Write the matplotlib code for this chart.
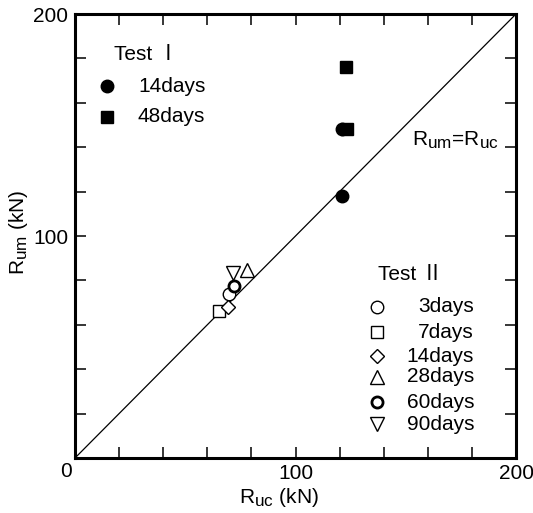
import matplotlib
matplotlib.use("Agg")
import matplotlib.pyplot as plt
import matplotlib._mathtext as _mt
from matplotlib.ticker import MultipleLocator, FuncFormatter

plt.rcParams['font.family'] = ['Liberation Sans', 'Noto Sans CJK JP', 'DejaVu Sans']
plt.rcParams['mathtext.fontset'] = 'custom'
plt.rcParams['mathtext.rm'] = 'Liberation Sans'
plt.rcParams['mathtext.it'] = 'Liberation Sans'
# larger subscripts than the mathtext default
_mt.SHRINK_FACTOR = 0.82

# Test I
t1_labels = ['14days', '48days']
t1_14_ruc = [121.0, 121.0]
t1_14_rum = [118.0, 148.0]
t1_48_ruc = [123.5, 123.0]
t1_48_rum = [148.0, 176.0]

# Test II
t2_labels = ['3days', '7days', '14days', '28days', '60days', '90days']
t2_ruc = [70.0, 65.4, 69.2, 77.8, 72.0, 71.7]
t2_rum = [73.7, 66.1, 68.1, 84.6, 77.7, 83.3]

tick_labels = {100: '100', 200: '200'}

W, H = 533, 513
fig = plt.figure(figsize=(W / 100, H / 100), dpi=100)
L, R, T, B = 75, 516, 14, 458
ax = fig.add_axes([L / W, (H - B) / H, (R - L) / W, (B - T) / H])

def ax_xy(px, py):
    return (px - L) / (R - L), (B - py) / (B - T)

FS = 15

# 1:1 line
ax.plot([0, 200], [0, 200], color='black', lw=0.9)

# Test I markers
ax.plot(t1_14_ruc, t1_14_rum, 'o', color='black', ms=9, mec='black', ls='none')
ax.plot(t1_48_ruc, t1_48_rum, 's', color='black', ms=9, mec='black', ls='none')

# Test II marker styles
t2_styles = [
    dict(marker='o', ms=9, mfc='white', mew=1.0),
    dict(marker='s', ms=9, mfc='white', mew=1.0),
    dict(marker='D', ms=7, mfc='white', mew=1.0),
    dict(marker='^', ms=9.5, mfc='white', mew=1.0),
    dict(marker='o', ms=8, mfc='white', mew=2.0),
    dict(marker='v', ms=9.5, mfc='white', mew=1.0),
]
for xv, yv, st in zip(t2_ruc, t2_rum, t2_styles):
    ax.plot([xv], [yv], ls='none', mec='black', **st)

ax.set_xlim(0, 200)
ax.set_ylim(0, 200)

# Axis styling
for sp in ax.spines.values():
    sp.set_linewidth(2.2)
ax.xaxis.set_major_locator(MultipleLocator(20))
ax.yaxis.set_major_locator(MultipleLocator(20))
ax.tick_params(direction='in', length=8, width=1.1, top=True, right=True,
               labelsize=FS, pad=4)
fmt = FuncFormatter(lambda v, p: tick_labels.get(int(round(v)), ''))
ax.xaxis.set_major_formatter(fmt)
ax.yaxis.set_major_formatter(fmt)
ax.tick_params(axis='y', pad=5)

# shared origin label, set slightly left of the corner
ax.text(*ax_xy(66, 462), '0', transform=ax.transAxes, ha='center', va='top', fontsize=FS)

ax.set_xlabel(r'R$_{\mathrm{uc}}$ (kN)', fontsize=FS)
ax.set_ylabel(r'R$_{\mathrm{um}}$ (kN)', fontsize=FS)
ax.xaxis.set_label_coords(*ax_xy(279, 486))
ax.yaxis.set_label_coords(*ax_xy(30, 232))

# Line annotation
ax.text(*ax_xy(455, 140), r'R$_{\mathrm{um}}$=R$_{\mathrm{uc}}$', transform=ax.transAxes,
        ha='center', va='center', fontsize=FS)

# Test I key
ax.text(*ax_xy(114, 55), 'Test Ⅰ', transform=ax.transAxes, ha='left', va='center', fontsize=FS)
t1_key_y = [86, 117]
t1_key_m = ['o', 's']
for lab, ky, mk in zip(t1_labels, t1_key_y, t1_key_m):
    ax.plot(*ax_xy(107, ky), marker=mk, color='black', ms=9, transform=ax.transAxes, clip_on=False)
    ax.text(*ax_xy(138, ky), lab, transform=ax.transAxes, ha='left', va='center', fontsize=FS)

# Test II key
ax.text(*ax_xy(378, 275), 'Test Ⅱ', transform=ax.transAxes, ha='left', va='center', fontsize=FS)
t2_key_y = [307, 332, 356, 377, 402, 424]
for lab, ky, st in zip(t2_labels, t2_key_y, t2_styles):
    ax.plot(*ax_xy(377, ky), ls='none', mec='black', transform=ax.transAxes, clip_on=False, **st)
    ax.text(*ax_xy(474, ky), lab, transform=ax.transAxes, ha='right', va='center', fontsize=FS)

fig.savefig('out.png', dpi=100)
